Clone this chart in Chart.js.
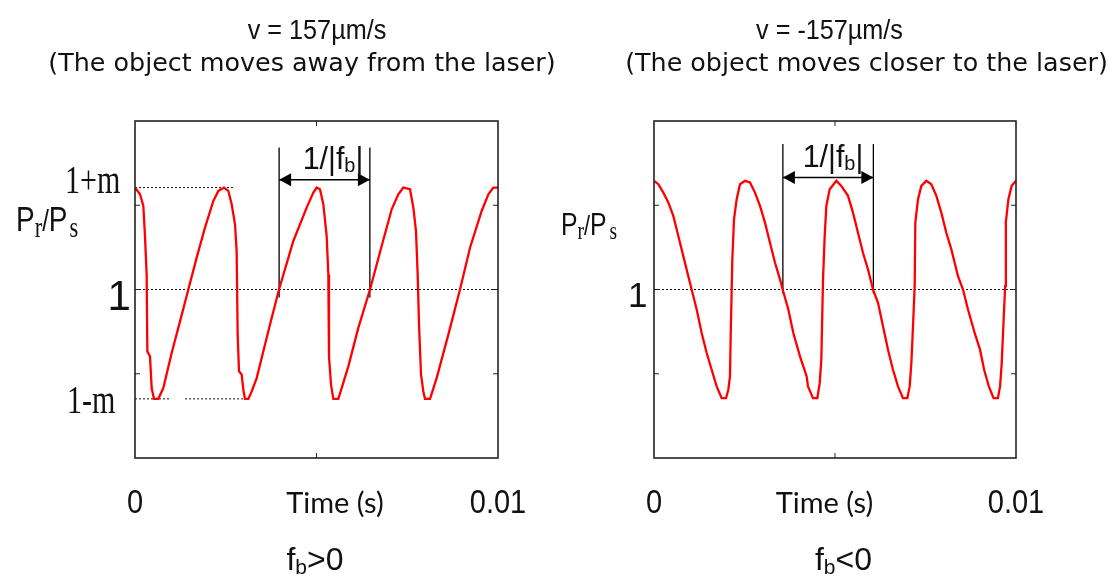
<!DOCTYPE html>
<html lang="en">
<head>
<meta charset="UTF-8">
<title>Pr/Ps self-mixing signal</title>
<script src="https://cdn.jsdelivr.net/npm/chart.js@4"></script>
<style>
  body { margin: 0; background: #fff; }
  #wrap { position: relative; width: 1114px; height: 583px; }
  #wrap canvas { position: absolute; left: 0; top: 0; }
</style>
</head>
<body>
<div id="wrap">
  <canvas id="chartAway" width="1114" height="583"></canvas>
  <canvas id="chartCloser" width="1114" height="583"></canvas>
</div>
<script>
// object moving away from the laser (fb > 0): time (s) and Pr/Ps
const timeAway = [0, 0.000138, 0.00023, 0.000275, 0.000321, 0.00034, 0.000413, 0.000459, 0.000523, 0.000643,
  0.00078, 0.00101, 0.00124, 0.001469, 0.001699, 0.001928, 0.002158, 0.002296, 0.002452, 0.002571,
  0.002663, 0.002755, 0.0028, 0.002828, 0.002865, 0.002938, 0.002984, 0.00303, 0.003122, 0.003214,
  0.003352, 0.003719, 0.003967, 0.004362, 0.004729, 0.004913, 0.005005, 0.005096, 0.005188, 0.00528,
  0.005326, 0.005344, 0.0054, 0.005464, 0.005601, 0.005693, 0.005877, 0.006152, 0.006474, 0.006795,
  0.007071, 0.007254, 0.007392, 0.007576, 0.007668, 0.007741, 0.007787, 0.007824, 0.007879, 0.007943,
  0.007989, 0.008127, 0.00831, 0.008632, 0.008953, 0.009229, 0.00955, 0.009734, 0.009871, 0.01];
const powerAway = [1.605, 1.565, 1.496, 1.317, 1.089, 0.633, 0.603, 0.415, 0.351, 0.351,
  0.415, 0.623, 0.811, 1.0, 1.189, 1.367, 1.526, 1.585, 1.605, 1.585,
  1.506, 1.387, 1.228, 0.732, 0.515, 0.496, 0.405, 0.351, 0.351, 0.395,
  0.474, 0.792, 1.0, 1.288, 1.486, 1.575, 1.605, 1.595, 1.506, 1.317,
  1.089, 0.603, 0.435, 0.351, 0.351, 0.415, 0.544, 0.772, 1.0, 1.258,
  1.476, 1.565, 1.605, 1.595, 1.486, 1.347, 1.089, 0.792, 0.496, 0.395,
  0.351, 0.351, 0.474, 0.732, 1.0, 1.248, 1.466, 1.565, 1.605, 1.605];

// object moving closer to the laser (fb < 0)
const timeCloser = [0, 0.00012, 0.000258, 0.000396, 0.000534, 0.000672, 0.00081, 0.000948, 0.00104, 0.001179,
  0.001317, 0.001455, 0.001593, 0.001731, 0.001869, 0.001989, 0.002053, 0.002099, 0.002118, 0.002146,
  0.002164, 0.00221, 0.002284, 0.002376, 0.002514, 0.002652, 0.00279, 0.002928, 0.003066, 0.003204,
  0.003343, 0.003481, 0.003554, 0.003711, 0.003849, 0.004033, 0.004217, 0.004254, 0.004392, 0.004512,
  0.004577, 0.004622, 0.004669, 0.004715, 0.004761, 0.004853, 0.005037, 0.005175, 0.005359, 0.005497,
  0.005635, 0.005773, 0.005912, 0.00605, 0.006188, 0.006326, 0.006464, 0.006602, 0.00674, 0.006878,
  0.006998, 0.007063, 0.007109, 0.007155, 0.007201, 0.007219, 0.007293, 0.007385, 0.007523, 0.007661,
  0.0078, 0.007937, 0.008075, 0.008214, 0.008398, 0.008536, 0.008674, 0.008858, 0.009006, 0.00912,
  0.00925, 0.00938, 0.0095, 0.00956, 0.009605, 0.00965, 0.0097, 0.00972, 0.00979, 0.00988, 0.01];
const powerCloser = [1.645, 1.625, 1.575, 1.516, 1.437, 1.317, 1.198, 1.079, 1.0, 0.881,
  0.742, 0.623, 0.524, 0.425, 0.355, 0.355, 0.405, 0.484, 0.722, 1.0,
  1.179, 1.417, 1.536, 1.625, 1.645, 1.635, 1.575, 1.496, 1.397, 1.278,
  1.159, 1.06, 1.0, 0.881, 0.742, 0.603, 0.484, 0.425, 0.355, 0.355,
  0.444, 0.583, 1.06, 1.317, 1.496, 1.595, 1.645, 1.615, 1.556, 1.456,
  1.337, 1.218, 1.119, 1.0, 0.921, 0.782, 0.643, 0.524, 0.425, 0.355,
  0.355, 0.425, 0.563, 0.782, 1.02, 1.397, 1.536, 1.615, 1.645, 1.625,
  1.556, 1.456, 1.337, 1.238, 1.079, 1.0, 0.881, 0.742, 0.643, 0.524,
  0.425, 0.355, 0.355, 0.425, 0.56, 0.78, 1.02, 1.4, 1.536, 1.615, 1.645];

const timeRange = [0, 0.01];
const timeTickLabels = ['0', '0.01'];
const ratioRange = [0, 2];
const innerTicksY = [0.5, 1, 1.5];
const innerTicksX = [0.005];

// labelled levels on the Pr/Ps axis
const levelsAway = [1.605, 1, 0.351];
const levelLabelsAway = ['1+m', '1', '1-m'];
const levelsCloser = [1];
const levelLabelsCloser = ['1'];

// two crossings of 1 one beat period apart: 1/|fb| = 0.0025 s
const beatMarksAway = [0.00397, 0.00647];
const beatMarksCloser = [0.00356, 0.00606];

const SANS = '"Liberation Sans", Arial, sans-serif';
const SERIF = '"Liberation Serif", "Times New Roman", serif';
const NOTE = '"DejaVu Sans", Verdana, sans-serif';
const LABEL = 'Lato, "Open Sans", sans-serif';
const F = (size, fam) => size + 'px ' + fam;

function pts(xs, ys) {
  return xs.map((x, i) => ({ x: x, y: ys[i] }));
}

function dotted(points) {
  return { data: points, borderColor: '#111', borderWidth: 1, borderDash: [2, 2], pointRadius: 0 };
}

function solid(points, width) {
  return { data: points, borderColor: '#000', borderWidth: width, pointRadius: 0 };
}

// signal, beat markers and the 1/|fb| bar (index 3 is the bar)
function datasetsFor(time, power, marks, markLow, markHigh, barLevel, refs) {
  return [
    { data: pts(time, power), borderColor: '#ff0000', borderWidth: 2.3, pointRadius: 0 },
    solid([{ x: marks[0], y: markLow }, { x: marks[0], y: markHigh }], 1.3),
    solid([{ x: marks[1], y: markLow }, { x: marks[1], y: markHigh }], 1.3),
    solid([{ x: marks[0], y: barLevel }, { x: marks[1], y: barLevel }], 1.5)
  ].concat(refs.map(dotted));
}

// text made of runs: [text, font, xScale, dy, dx]
function drawRuns(ctx, runs, x, y, align) {
  let total = 0;
  runs.forEach(r => { ctx.font = r[1]; total += ctx.measureText(r[0]).width * r[2] + (r[4] || 0); });
  let cx = align === 'center' ? x - total / 2 : align === 'right' ? x - total : x;
  runs.forEach(r => {
    ctx.font = r[1];
    const w = ctx.measureText(r[0]).width * r[2];
    cx += r[4] || 0;
    ctx.save();
    ctx.translate(cx, y + (r[3] || 0));
    ctx.scale(r[2], 1);
    ctx.fillText(r[0], 0, 0);
    ctx.restore();
    cx += w;
  });
}

function arrowHead(ctx, x, y, dir) {
  ctx.beginPath();
  ctx.moveTo(x, y);
  ctx.lineTo(x + dir * 12, y - 6.5);
  ctx.lineTo(x + dir * 12, y + 6.5);
  ctx.closePath();
  ctx.fill();
}

const figureText = {
  id: 'figureText',
  afterDatasetsDraw(chart, args, o) {
    const ctx = chart.ctx, a = chart.chartArea, sx = chart.scales.x, sy = chart.scales.y;
    ctx.save();
    ctx.strokeStyle = '#222';
    ctx.lineWidth = 1.6;
    ctx.strokeRect(a.left, a.top, a.right - a.left, a.bottom - a.top);

    ctx.lineWidth = 1;
    ctx.beginPath();
    innerTicksY.forEach(v => {
      const py = sy.getPixelForValue(v);
      ctx.moveTo(a.left, py); ctx.lineTo(a.left + 5, py);
      ctx.moveTo(a.right, py); ctx.lineTo(a.right - 5, py);
    });
    innerTicksX.forEach(v => {
      const px = sx.getPixelForValue(v);
      ctx.moveTo(px, a.top); ctx.lineTo(px, a.top + 5);
      ctx.moveTo(px, a.bottom); ctx.lineTo(px, a.bottom - 5);
    });
    ctx.stroke();

    ctx.fillStyle = '#000';
    const bar = chart.getDatasetMeta(3).data;
    arrowHead(ctx, bar[0].x, bar[0].y, 1);
    arrowHead(ctx, bar[1].x, bar[1].y, -1);

    ctx.fillStyle = '#111';
    ctx.textBaseline = 'alphabetic';
    o.levels.forEach((v, i) => {
      const s = o.levelStyle[i];
      drawRuns(ctx, [[o.levelLabels[i], s.font, s.sx]], s.x, sy.getPixelForValue(v) + s.dy, 'left');
    });
    timeRange.forEach((v, i) => {
      drawRuns(ctx, [[timeTickLabels[i], F(33, SANS), 0.88]], sx.getPixelForValue(v), 513, 'center');
    });
    o.texts.forEach(t => drawRuns(ctx, t.runs, t.x, t.y, t.align || 'center'));
    ctx.restore();
  }
};

function optionsFor(padding, textOpts) {
  return {
    responsive: false,
    animation: false,
    events: [],
    layout: { padding: padding },
    elements: { line: { tension: 0 }, point: { radius: 0 } },
    scales: {
      x: { type: 'linear', min: timeRange[0], max: timeRange[1], display: false },
      y: { type: 'linear', min: ratioRange[0], max: ratioRange[1], display: false }
    },
    plugins: { legend: { display: false }, tooltip: { enabled: false }, figureText: textOpts }
  };
}

new Chart(document.getElementById('chartAway'), {
  type: 'line',
  data: {
    datasets: datasetsFor(timeAway, powerAway, beatMarksAway, 0.952, 1.843, 1.651, [
      [{ x: 0, y: 1 }, { x: 0.01, y: 1 }],
      [{ x: 0, y: levelsAway[0] }, { x: 0.0027, y: levelsAway[0] }],
      [{ x: 0, y: levelsAway[2] }, { x: 0.00096, y: levelsAway[2] }, { x: 0.0012, y: null },
       { x: 0.00138, y: levelsAway[2] }, { x: 0.00303, y: levelsAway[2] }]
    ])
  },
  options: optionsFor({ left: 135, right: 616, top: 121, bottom: 125 }, {
    levels: levelsAway,
    levelLabels: levelLabelsAway,
    levelStyle: [
      { font: F(40, SERIF), sx: 0.75, x: 65, dy: 5 },
      { font: F(42, SANS), sx: 1, x: 107.5, dy: 20 },
      { font: F(40, SERIF), sx: 0.75, x: 67, dy: 14 }
    ],
    texts: [
      { runs: [['v = 157µm/s', F(28, SANS), 0.9]], x: 317, y: 39 },
      { runs: [['(The object moves away from the laser)', F(25.4, NOTE), 1]], x: 302, y: 71 },
      { runs: [['P', F(35, SANS), 0.8], ['r', F(30, SERIF), 0.75, 6], ['/', F(30, SANS), 0.8],
               ['P', F(35, SANS), 0.8], ['s', F(30, SERIF), 0.75, 6, 2]], x: 16, y: 231, align: 'left' },
      { runs: [['Time (s)', F(29, LABEL), 1]], x: 335, y: 513 },
      { runs: [['f', F(32, SANS), 1], ['b', F(21, SANS), 1, 4], ['>0', F(32, SANS), 1]], x: 315, y: 570 },
      { runs: [['1/|f', F(32, SANS), 0.95], ['b', F(21, SANS), 0.95, 3], ['|', F(32, SANS), 0.95]], x: 333, y: 169 }
    ]
  }),
  plugins: [figureText]
});

new Chart(document.getElementById('chartCloser'), {
  type: 'line',
  data: {
    datasets: datasetsFor(timeCloser, powerCloser, beatMarksCloser, 0.976, 1.863, 1.665, [
      [{ x: 0, y: 1 }, { x: 0.01, y: 1 }]
    ])
  },
  options: optionsFor({ left: 654, right: 98, top: 121, bottom: 125 }, {
    levels: levelsCloser,
    levelLabels: levelLabelsCloser,
    levelStyle: [{ font: F(35, SANS), sx: 1, x: 628, dy: 17 }],
    texts: [
      { runs: [['v = -157µm/s', F(28, SANS), 0.9]], x: 829.5, y: 39 },
      { runs: [['(The object moves closer to the laser)', F(25.4, NOTE), 1]], x: 866.5, y: 71 },
      { runs: [['P', F(31, SANS), 0.8], ['r', F(26, SERIF), 0.75, 4], ['/', F(27, SANS), 0.8],
               ['P', F(31, SANS), 0.8], ['s', F(26, SERIF), 0.75, 4, 3]], x: 561, y: 235, align: 'left' },
      { runs: [['Time (s)', F(29, LABEL), 1]], x: 824.5, y: 513 },
      { runs: [['f', F(32, SANS), 1], ['b', F(21, SANS), 1, 4], ['<0', F(32, SANS), 1]], x: 843.5, y: 570 },
      { runs: [['1/|f', F(32, SANS), 0.95], ['b', F(21, SANS), 0.95, 3], ['|', F(32, SANS), 0.95]], x: 833, y: 167 }
    ]
  }),
  plugins: [figureText]
});
</script>
</body>
</html>
